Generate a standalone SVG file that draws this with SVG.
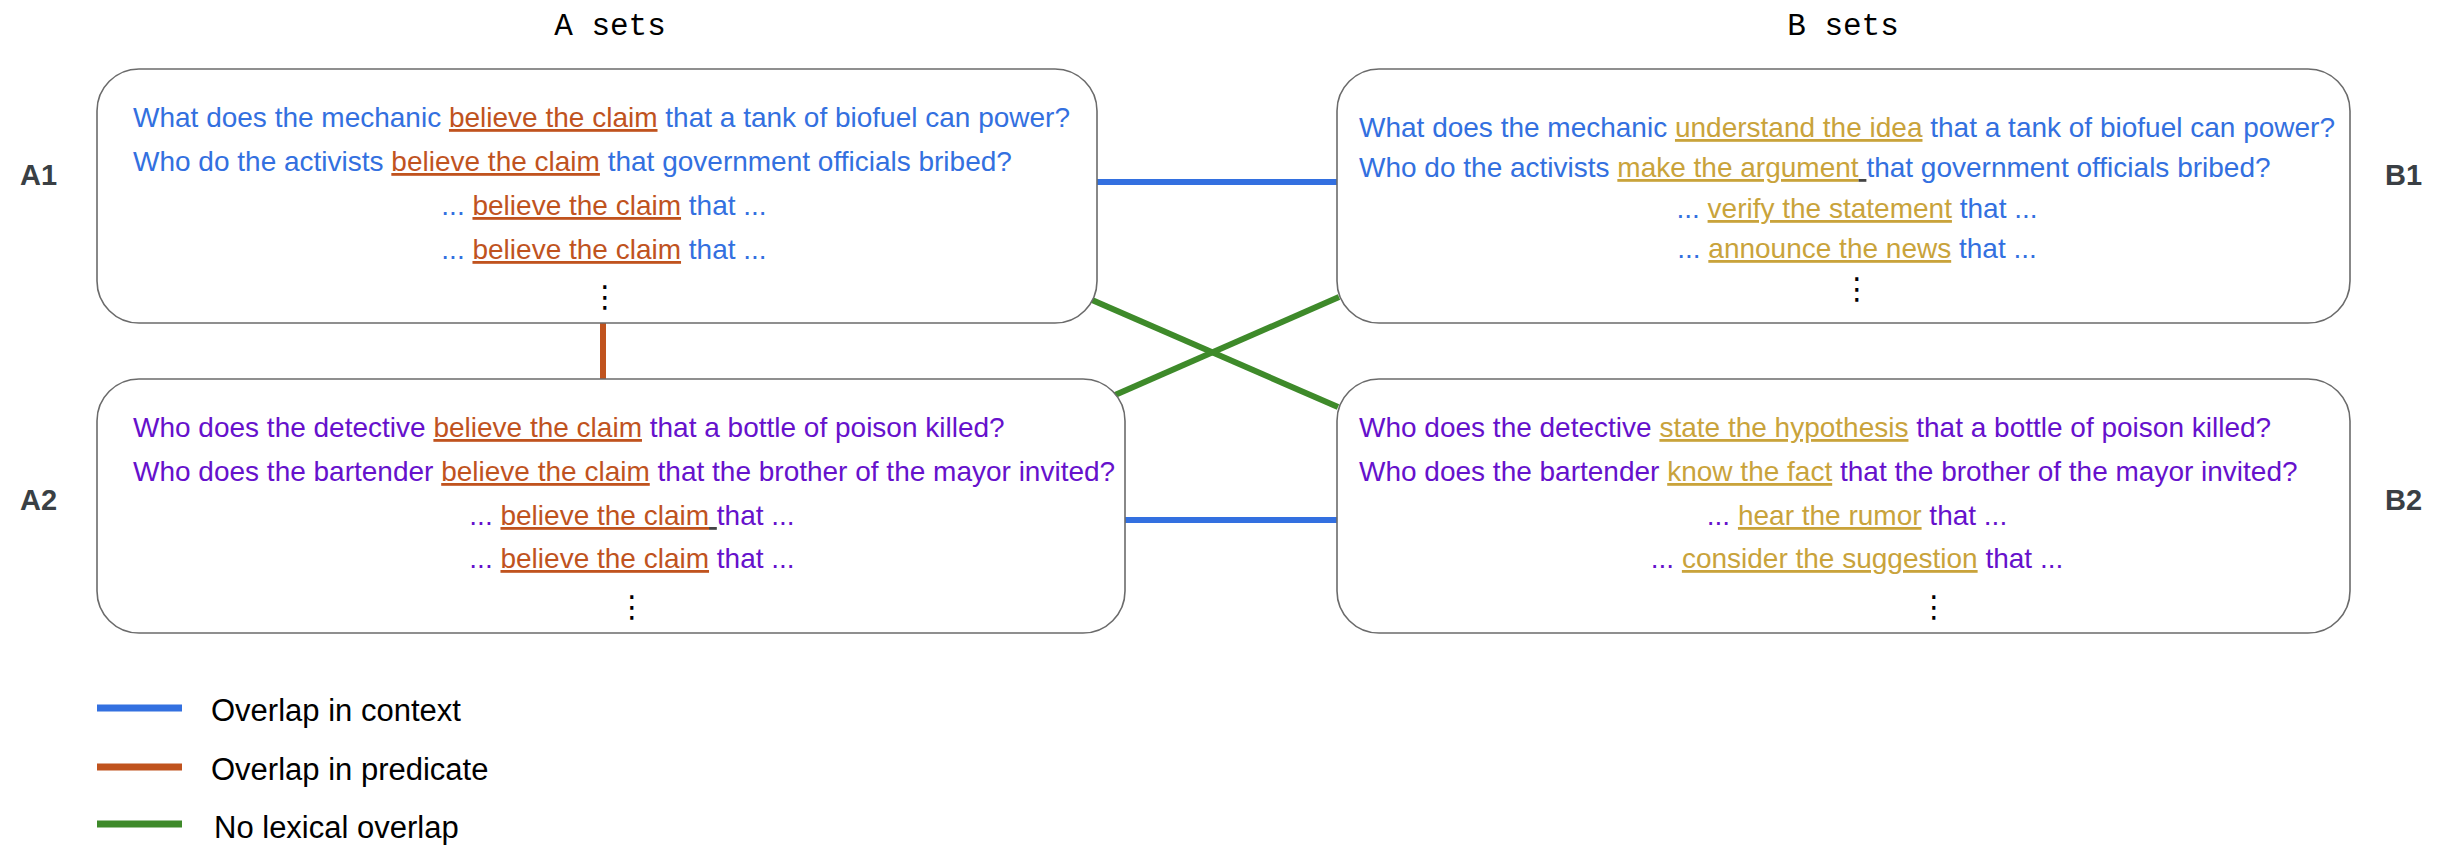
<svg xmlns="http://www.w3.org/2000/svg" width="2450" height="858" viewBox="0 0 2450 858">
<style>
.box{fill:#fff;stroke:#6b6b6b;stroke-width:1.6}
.t{font-family:"Liberation Sans",Arial,sans-serif;font-size:28px}
.bl{fill:#3370e0}
.pu{fill:#6611cc}
.or{fill:#c0531e;text-decoration:underline}
.gd{fill:#c9a33b;text-decoration:underline}
.dk{fill:#444;text-decoration:underline}
.lab{font-family:"Liberation Sans",Arial,sans-serif;font-size:29px;font-weight:bold;fill:#3a3f44}
.ttl{font-family:"Liberation Mono","Courier New",monospace;font-size:31px;fill:#000}
.dots{font-family:"DejaVu Sans",sans-serif;font-size:30px;fill:#000}
.leg{font-family:"Liberation Sans",Arial,sans-serif;font-size:31px;fill:#000}
.c{fill:none;stroke-width:6}
.cb{stroke:#3370e0}
.co{stroke:#c0531e}
.cg{stroke:#3e8a2a}
</style>
<text class="ttl" x="610" y="35" text-anchor="middle">A sets</text>
<text class="ttl" x="1843" y="35" text-anchor="middle">B sets</text>
<g id="connectors">
<line class="c cb" x1="1097" y1="182" x2="1337" y2="182"/>
<line class="c cb" x1="1125" y1="520" x2="1337" y2="520"/>
<line class="c co" x1="603" y1="323" x2="603" y2="379"/>
<line class="c cg" x1="1092" y1="300" x2="1338" y2="407"/>
<line class="c cg" x1="1115" y1="395" x2="1339" y2="297"/>
</g>
<g id="A1">
<rect class="box" x="97" y="69" width="1000" height="254" rx="42"/>
<text class="lab" x="20" y="185">A1</text>
<text class="t bl" x="133" y="127">What does the mechanic <tspan class="or">believe the claim</tspan> that a tank of biofuel can power?</text>
<text class="t bl" x="133" y="171">Who do the activists <tspan class="or">believe the claim</tspan> that government officials bribed?</text>
<text class="t bl" x="604" y="215" text-anchor="middle">... <tspan class="or">believe the claim</tspan> that ...</text>
<text class="t bl" x="604" y="259" text-anchor="middle">... <tspan class="or">believe the claim</tspan> that ...</text>
<text class="dots" x="605" y="307" text-anchor="middle">⋮</text>
</g>
<g id="B1">
<rect class="box" x="1337" y="69" width="1013" height="254" rx="42"/>
<text class="lab" x="2385" y="185">B1</text>
<text class="t bl" x="1359" y="137">What does the mechanic <tspan class="gd">understand the idea</tspan> that a tank of biofuel can power?</text>
<text class="t bl" x="1359" y="177">Who do the activists <tspan class="gd">make the argument</tspan><tspan class="dk"> </tspan>that government officials bribed?</text>
<text class="t bl" x="1857" y="218" text-anchor="middle">... <tspan class="gd">verify the statement</tspan> that ...</text>
<text class="t bl" x="1857" y="258" text-anchor="middle">... <tspan class="gd">announce the news</tspan> that ...</text>
<text class="dots" x="1857" y="299" text-anchor="middle">⋮</text>
</g>
<g id="A2">
<rect class="box" x="97" y="379" width="1028" height="254" rx="42"/>
<text class="lab" x="20" y="510">A2</text>
<text class="t pu" x="133" y="437">Who does the detective <tspan class="or">believe the claim</tspan> that a bottle of poison killed?</text>
<text class="t pu" x="133" y="481">Who does the bartender <tspan class="or">believe the claim</tspan> that the brother of the mayor invited?</text>
<text class="t pu" x="632" y="525" text-anchor="middle">... <tspan class="or">believe the claim</tspan><tspan class="dk"> </tspan>that ...</text>
<text class="t pu" x="632" y="568" text-anchor="middle">... <tspan class="or">believe the claim</tspan> that ...</text>
<text class="dots" x="632" y="617" text-anchor="middle">⋮</text>
</g>
<g id="B2">
<rect class="box" x="1337" y="379" width="1013" height="254" rx="42"/>
<text class="lab" x="2385" y="510">B2</text>
<text class="t pu" x="1359" y="437">Who does the detective <tspan class="gd">state the hypothesis</tspan> that a bottle of poison killed?</text>
<text class="t pu" x="1359" y="481">Who does the bartender <tspan class="gd">know the fact</tspan> that the brother of the mayor invited?</text>
<text class="t pu" x="1857" y="525" text-anchor="middle">... <tspan class="gd">hear the rumor</tspan> that ...</text>
<text class="t pu" x="1857" y="568" text-anchor="middle">... <tspan class="gd">consider the suggestion</tspan> that ...</text>
<text class="dots" x="1934" y="617" text-anchor="middle">⋮</text>
</g>
<g id="legend">
<line class="cb" x1="97" y1="708" x2="182" y2="708" stroke-width="7"/>
<line class="co" x1="97" y1="767" x2="182" y2="767" stroke-width="7"/>
<line class="cg" x1="97" y1="824" x2="182" y2="824" stroke-width="7"/>
<text class="leg" x="211" y="721">Overlap in context</text>
<text class="leg" x="211" y="780">Overlap in predicate</text>
<text class="leg" x="214" y="838">No lexical overlap</text>
</g>
</svg>
